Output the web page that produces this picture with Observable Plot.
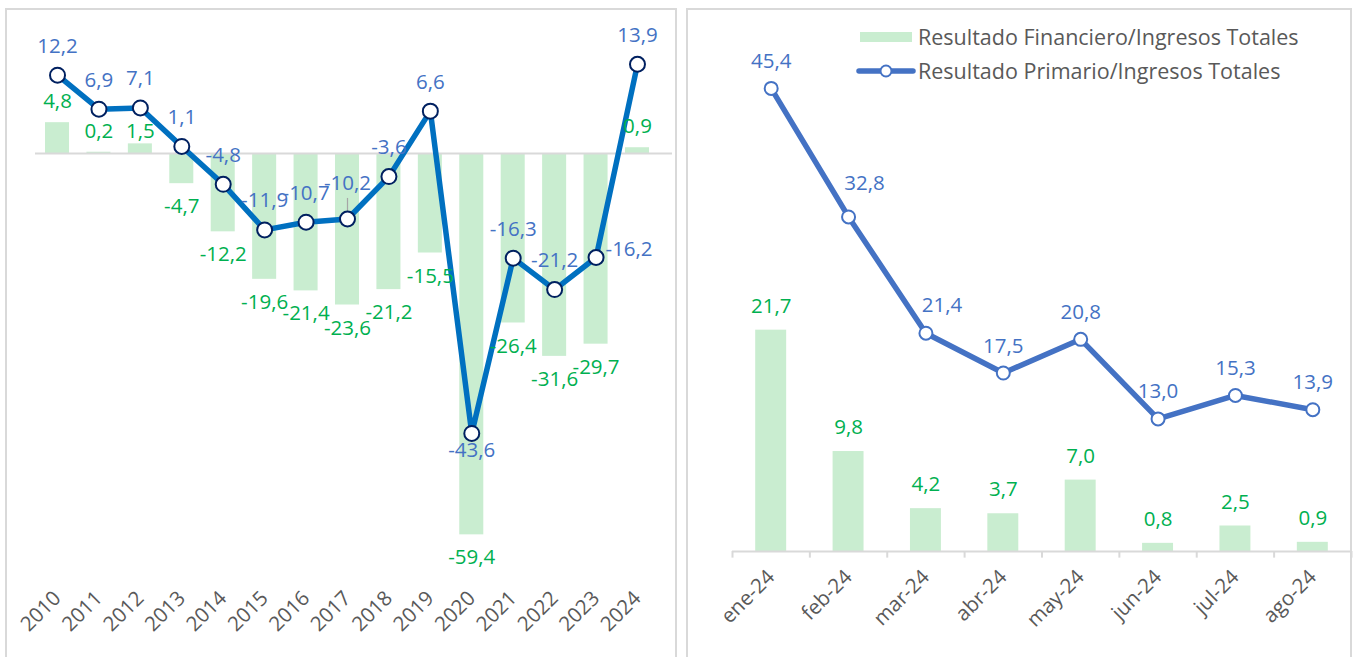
<!DOCTYPE html>
<html>
<head>
<meta charset="utf-8">
<script src="https://cdn.jsdelivr.net/npm/d3@7"></script>
<script src="https://cdn.jsdelivr.net/npm/@observablehq/plot@0.6"></script>
<style>
  body { margin: 0; background: #fff; font-family: "Open Sans", sans-serif; }
  #wrap { position: relative; width: 1354px; height: 657px; overflow: hidden; background: #fff; }
  .panel { position: absolute; border: 2px solid #d9d9d9; box-sizing: border-box; }
  .chart { position: absolute; }
  .chart svg { overflow: visible; }
  .leg { position: absolute; font-size: 21.5px; color: #595959; white-space: nowrap; line-height: 1; }
</style>
</head>
<body>
<div id="wrap">
  <div class="panel" style="left:5px;top:8px;width:672px;height:670px"></div>
  <div class="panel" style="left:686px;top:8px;width:666px;height:670px"></div>
  <div class="chart" id="c1" style="left:5px;top:8px"></div>
  <div class="chart" id="c2" style="left:687px;top:8px"></div>
  <div id="legend"></div>
</div>
<script>
// ---- data ----
const years = ["2010","2011","2012","2013","2014","2015","2016","2017","2018","2019","2020","2021","2022","2023","2024"];
const financieroAnual = [4.8, 0.2, 1.5, -4.7, -12.2, -19.6, -21.4, -23.6, -21.2, -15.5, -59.4, -26.4, -31.6, -29.7, 0.9];
const primarioAnual = [12.2, 6.9, 7.1, 1.1, -4.8, -11.9, -10.7, -10.2, -3.6, 6.6, -43.6, -16.3, -21.2, -16.2, 13.9];

const months = ["ene-24","feb-24","mar-24","abr-24","may-24","jun-24","jul-24","ago-24"];
const financieroMes = [21.7, 9.8, 4.2, 3.7, 7.0, 0.8, 2.5, 0.9];
const primarioMes = [45.4, 32.8, 21.4, 17.5, 20.8, 13.0, 15.3, 13.9];

const serieFin = "Resultado Financiero/Ingresos Totales";
const seriePrim = "Resultado Primario/Ingresos Totales";

// ---- styles ----
const GREEN_BAR = "#c9edd0";
const GREEN_TXT = "#00b050";
const BLUE_TXT = "#4472c4";
const FONT = "Open Sans";
const FS = 20.5;
const fmt = v => v.toFixed(1).replace(".", ",");

const anual = years.map((k, i) => ({k, fin: financieroAnual[i], prim: primarioAnual[i]}));
const mensual = months.map((k, i) => ({k, fin: financieroMes[i], prim: primarioMes[i]}));

const is = ks => d => ks.includes(d.k);
const not = ks => d => !ks.includes(d.k);

// ---- left chart ----
const left = Plot.plot({
  width: 671, height: 649,
  marginLeft: 30, marginRight: 4, marginTop: 16.6, marginBottom: 86.7,
  style: {fontFamily: FONT, fontSize: FS + "px", background: "transparent", overflow: "visible"},
  x: {type: "band", domain: years, range: [31.3, 652.7], paddingInner: 0.42, paddingOuter: 0.21, round: false, label: null},
  y: {domain: [-65, 20], axis: null},
  marks: [
    Plot.barY(anual, {x: "k", y: "fin", fill: GREEN_BAR}),
    Plot.ruleY([0], {stroke: "#d9d9d9", strokeWidth: 2}),
    Plot.axisX({tickSize: 0, tickPadding: 24, tickRotate: -45, fontSize: FS, color: "#595959", fill: "#595959", label: null}),
    Plot.ruleX(anual.filter(is(["2017"])), {x: "k", y1: "prim", y2: d => d.prim + 3.2, stroke: "#a6a6a6", strokeWidth: 1.2}),
    Plot.line(anual, {x: "k", y: "prim", stroke: "#0070c0", strokeWidth: 5.5}),
    Plot.dot(anual, {x: "k", y: "prim", r: 7.5, fill: "white", stroke: "#002060", strokeWidth: 2}),
    // green labels
    Plot.text(anual.filter(d => d.fin >= 0 && d.k !== "2012"), {x: "k", y: "fin", text: d => fmt(d.fin), dy: -21, fill: GREEN_TXT, fontSize: FS}),
    Plot.text(anual.filter(is(["2012"])), {x: "k", y: "fin", text: d => fmt(d.fin), dy: -12, fill: GREEN_TXT, fontSize: FS}),
    Plot.text(anual.filter(d => d.fin < 0), {x: "k", y: "fin", text: d => fmt(d.fin), dy: 23, fill: GREEN_TXT, fontSize: FS}),
    // blue labels
    Plot.text(anual.filter(not(["2017","2020","2023"])), {x: "k", y: "prim", text: d => fmt(d.prim), dy: -29, fill: BLUE_TXT, fontSize: FS}),
    Plot.text(anual.filter(is(["2017"])), {x: "k", y: "prim", text: d => fmt(d.prim), dy: -36, fill: BLUE_TXT, fontSize: FS}),
    Plot.text(anual.filter(is(["2020"])), {x: "k", y: "prim", text: d => fmt(d.prim), dy: 17, fill: BLUE_TXT, fontSize: FS}),
    Plot.text(anual.filter(is(["2023"])), {x: "k", y: "prim", text: d => fmt(d.prim), dx: 33, dy: -8, fill: BLUE_TXT, fontSize: FS})
  ]
});
document.getElementById("c1").append(left);

// ---- right chart ----
const right = Plot.plot({
  width: 664, height: 649,
  marginLeft: 45, marginRight: 0, marginTop: 33, marginBottom: 106,
  style: {fontFamily: FONT, fontSize: FS + "px", background: "transparent", overflow: "visible"},
  x: {type: "band", domain: months, paddingInner: 0.6, paddingOuter: 0.3, round: false, label: null},
  y: {domain: [0, 50], axis: null},
  marks: [
    Plot.barY(mensual, {x: "k", y: "fin", fill: GREEN_BAR}),
    Plot.ruleY([0], {stroke: "#d9d9d9", strokeWidth: 2}),
    Plot.ruleX(mensual, {x: "k", y1: 0, y2: -0.65, dx: -38.7, stroke: "#d9d9d9", strokeWidth: 2}),
    Plot.ruleX(mensual.slice(-1), {x: "k", y1: 0, y2: -0.65, dx: 38.7, stroke: "#d9d9d9", strokeWidth: 2}),
    Plot.axisX({tickSize: 0, tickPadding: 22, tickRotate: -45, fontSize: FS, color: "#595959", fill: "#595959", label: null}),
    Plot.line(mensual, {x: "k", y: "prim", stroke: "#4472c4", strokeWidth: 5.5}),
    Plot.dot(mensual, {x: "k", y: "prim", r: 6.5, fill: "white", stroke: "#4472c4", strokeWidth: 2}),
    Plot.text(mensual, {x: "k", y: "fin", text: d => fmt(d.fin), dy: -24, fill: GREEN_TXT, fontSize: FS}),
    Plot.text(mensual.filter(not(["feb-24","mar-24"])), {x: "k", y: "prim", text: d => fmt(d.prim), dy: -27, fill: BLUE_TXT, fontSize: FS}),
    Plot.text(mensual.filter(is(["feb-24"])), {x: "k", y: "prim", text: d => fmt(d.prim), dx: 16, dy: -34, fill: BLUE_TXT, fontSize: FS}),
    Plot.text(mensual.filter(is(["mar-24"])), {x: "k", y: "prim", text: d => fmt(d.prim), dx: 16, dy: -28, fill: BLUE_TXT, fontSize: FS})
  ]
});
document.getElementById("c2").append(right);

// ---- legend ----
const legend = document.getElementById("legend");
legend.innerHTML = `
  <div style="position:absolute;left:860px;top:32px;width:52px;height:10px;background:${GREEN_BAR}"></div>
  <div class="leg" style="left:918px;top:26px">${serieFin}</div>
  <svg style="position:absolute;left:856px;top:63px" width="60" height="16">
    <line x1="3" x2="57" y1="8" y2="8" stroke="#4472c4" stroke-width="5.5" stroke-linecap="round"/>
    <circle cx="30" cy="8" r="5.5" fill="white" stroke="#4472c4" stroke-width="2"/>
  </svg>
  <div class="leg" style="left:918px;top:60px">${seriePrim}</div>
`;
</script>
</body>
</html>
